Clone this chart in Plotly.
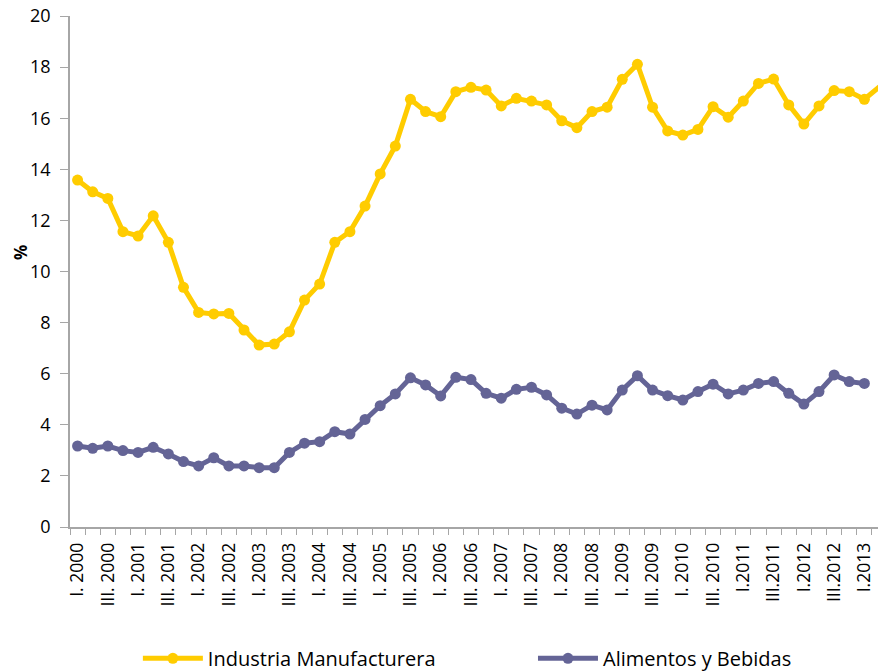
import plotly.graph_objects as go

# Quarterly series, I.2000 onward
industria = [13.58, 13.12, 12.86, 11.56, 11.39, 12.18, 11.14, 9.38, 8.40, 8.34,
             8.36, 7.71, 7.12, 7.16, 7.64, 8.88, 9.51, 11.14, 11.56, 12.56,
             13.82, 14.91, 16.74, 16.26, 16.06, 17.04, 17.21, 17.10, 16.48, 16.78,
             16.67, 16.52, 15.90, 15.63, 16.26, 16.43, 17.52, 18.11, 16.43, 15.50,
             15.34, 15.56, 16.45, 16.04, 16.67, 17.36, 17.53, 16.52, 15.77, 16.48,
             17.08, 17.04, 16.74, 17.23]
alimentos = [3.17, 3.08, 3.17, 2.99, 2.92, 3.12, 2.86, 2.56, 2.39, 2.71,
             2.39, 2.39, 2.32, 2.32, 2.92, 3.28, 3.34, 3.73, 3.64, 4.21,
             4.75, 5.21, 5.84, 5.56, 5.13, 5.86, 5.77, 5.23, 5.04, 5.39,
             5.47, 5.17, 4.65, 4.42, 4.77, 4.58, 5.36, 5.92, 5.36, 5.14,
             4.97, 5.30, 5.59, 5.21, 5.36, 5.62, 5.69, 5.23, 4.81, 5.30,
             5.95, 5.69, 5.62]

tick_labels = ["I. 2000", "III. 2000", "I. 2001", "III. 2001", "I. 2002", "III. 2002",
               "I. 2003", "III. 2003", "I. 2004", "III. 2004", "I. 2005", "III. 2005",
               "I. 2006", "III. 2006", "I. 2007", "III. 2007", "I. 2008", "III. 2008",
               "I. 2009", "III. 2009", "I. 2010", "III. 2010", "I.2011", "III.2011",
               "I.2012", "III.2012", "I.2013"]
tick_positions = list(range(0, 2 * len(tick_labels), 2))

YELLOW = "#FFCC00"
PURPLE = "#646496"
FONT = "Open Sans"
AXIS = "#A6A6A6"

fig = go.Figure()
fig.add_trace(go.Scatter(
    x=list(range(len(industria))), y=industria, mode="lines+markers",
    name="Industria Manufacturera", legend="legend",
    line=dict(color=YELLOW, width=5), marker=dict(color=YELLOW, size=11),
    cliponaxis=False))
fig.add_trace(go.Scatter(
    x=list(range(len(alimentos))), y=alimentos, mode="lines+markers",
    name="Alimentos y Bebidas", legend="legend2",
    line=dict(color=PURPLE, width=5), marker=dict(color=PURPLE, size=11)))

legend_common = dict(orientation="h", xanchor="left", yanchor="middle", y=-0.257,
                     font=dict(family=FONT, size=20, color="#000000"),
                     itemwidth=60, bgcolor="rgba(0,0,0,0)")

fig.update_layout(
    width=878, height=672,
    margin=dict(l=70, r=0, t=16, b=145, autoexpand=False),
    paper_bgcolor="white", plot_bgcolor="white",
    font=dict(family=FONT, size=16, color="#000000"),
    showlegend=True,
    legend=dict(x=0.084, **legend_common),
    legend2=dict(x=0.573, **legend_common),
    annotations=[dict(text="<b>%</b>", xref="paper", yref="y", x=-0.062, y=10.76,
                      xanchor="center", yanchor="middle",
                      textangle=-90, showarrow=False,
                      font=dict(family=FONT, size=17, color="#000000"))],
)
fig.update_xaxes(
    range=[-0.5, 52.9], tickmode="array", tickvals=tick_positions, ticktext=tick_labels,
    tickangle=-90, ticks="", showgrid=False, zeroline=False, automargin=False,
    showline=True, linecolor=AXIS, linewidth=1.5, ticklabelstandoff=7,
    ticklabeloverflow="allow",
    tickfont=dict(family=FONT, size=17.5, color="#000000"),
    minor=dict(tick0=-0.5, dtick=1, ticks="outside", ticklen=6, tickcolor=AXIS,
               tickwidth=1, showgrid=False),
)
fig.update_yaxes(
    range=[0, 20], dtick=2, ticks="outside", ticklen=8, tickcolor=AXIS,
    showgrid=False, zeroline=False, showline=True, linecolor=AXIS, linewidth=1.5,
    automargin=False, ticklabelstandoff=6, ticklabeloverflow="allow",
    tickfont=dict(family=FONT, size=18, color="#000000"),
)

fig.write_html("out.html", config={"displayModeBar": False},
               post_script="document.body.style.margin='0';document.body.style.overflow='hidden';")
